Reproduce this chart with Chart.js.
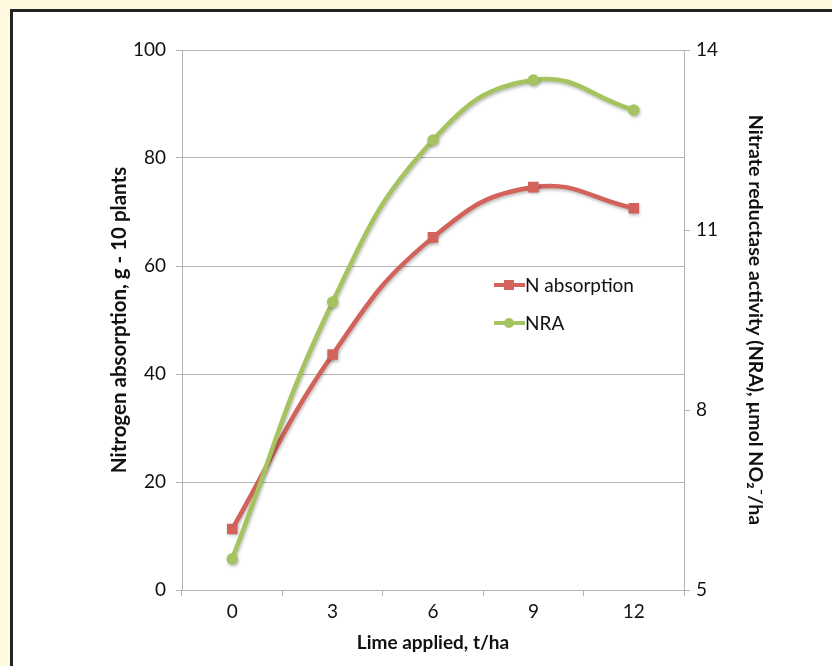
<!DOCTYPE html>
<html>
<head>
<meta charset="utf-8">
<script src="https://cdn.jsdelivr.net/npm/chart.js@4"></script>
<style>
  html, body { margin:0; padding:0; width:832px; height:666px; overflow:hidden; background:#FFF9E0; }
  #panel { position:absolute; left:10px; top:9px; width:840px; height:700px; background:#fff; border:3px solid #242424; box-sizing:border-box; }
  #wrap { position:absolute; left:0; top:0; width:832px; height:666px; }
</style>
</head>
<body>
<div id="panel"></div>
<div id="wrap"><canvas id="c" width="832" height="666"></canvas></div>
<script>
const categories = ['0', '3', '6', '9', '12'];
const nAbsorption = [11.3, 43.6, 65.3, 74.6, 70.7];
const nra = [5.52, 9.8, 12.5, 13.5, 13.0];
const seriesLabels = ['N absorption', 'NRA'];
const xTitle = 'Lime applied, t/ha';
const yLeftTitle = 'Nitrogen absorption, g - 10 plants';
const yRightTitle = 'Nitrate reductase activity (NRA), µmol NO\u2082\u207B/ha';

const RED = '#D3625A';
const GREEN = '#A5C45F';
const GRID = '#B4B4B4';
const FONT = 'Lato, "Open Sans", sans-serif';

const shadowPlugin = {
  id: 'shadow',
  beforeDatasetDraw(chart) {
    const ctx = chart.ctx;
    ctx.save();
    ctx.shadowColor = 'rgba(0,0,0,0.25)';
    ctx.shadowBlur = 3;
    ctx.shadowOffsetX = 1;
    ctx.shadowOffsetY = 2;
  },
  afterDatasetDraw(chart) { chart.ctx.restore(); }
};

const legendPlugin = {
  id: 'inlegend',
  afterDatasetsDraw(chart) {
    const ctx = chart.ctx;
    const x0 = 494;
    const rows = [{ label: seriesLabels[0], y: 285 }, { label: seriesLabels[1], y: 323 }];
    rows.forEach(row => {
      const ds = chart.data.datasets.find(d => d.label === row.label);
      const y = row.y;
      ctx.save();
      ctx.strokeStyle = ds.borderColor;
      ctx.lineWidth = 4;
      ctx.beginPath(); ctx.moveTo(x0, y); ctx.lineTo(x0 + 31, y); ctx.stroke();
      ctx.fillStyle = ds.pointBackgroundColor;
      if (ds.pointStyle === 'rect') { ctx.fillRect(x0 + 10, y - 5, 10, 10); }
      else { ctx.beginPath(); ctx.arc(x0 + 15, y, 5, 0, Math.PI * 2); ctx.fill(); }
      ctx.fillStyle = '#111';
      ctx.font = '19px ' + FONT;
      ctx.textBaseline = 'middle';
      ctx.fillText(ds.label, x0 + 31, y + 1);
      ctx.restore();
    });
  }
};

new Chart(document.getElementById('c'), {
  type: 'line',
  data: {
    labels: categories,
    datasets: [
      {
        label: seriesLabels[1], data: nra, yAxisID: 'y1',
        borderColor: GREEN, backgroundColor: GREEN, pointBackgroundColor: GREEN, pointBorderColor: GREEN,
        borderWidth: 4.5, tension: 0.45, pointStyle: 'circle', pointRadius: 5.8, pointBorderWidth: 0, order: 0
      },
      {
        label: seriesLabels[0], data: nAbsorption, yAxisID: 'y',
        borderColor: RED, backgroundColor: RED, pointBackgroundColor: RED, pointBorderColor: RED,
        borderWidth: 4.5, tension: 0.45, pointStyle: 'rect', pointRadius: 7.5, pointBorderWidth: 0, order: 1
      }
    ]
  },
  options: {
    responsive: false,
    animation: false,
    devicePixelRatio: 1,
    layout: { padding: { top: 50, left: 107, right: 65, bottom: 12 } },
    plugins: { legend: { display: false }, tooltip: { enabled: false } },
    scales: {
      x: {
        offset: true,
        grid: { offset: true, drawOnChartArea: false, color: GRID, tickLength: 6, tickColor: GRID },
        border: { color: GRID, width: 1 },
        ticks: { color: '#111', font: { family: FONT, size: 19 }, padding: 4, maxRotation: 0 },
        title: { display: true, text: xTitle, color: '#111', font: { family: FONT, size: 19, weight: 'bold' }, padding: { top: 4, bottom: 0 } },
        afterFit(s) { s.height = 64; }
      },
      y: {
        position: 'left', min: 0, max: 100,
        ticks: { stepSize: 20, color: '#111', font: { family: FONT, size: 19 }, padding: 10 },
        grid: { color: GRID, tickLength: 6, tickColor: GRID },
        border: { color: GRID },
        title: { display: true, text: yLeftTitle, color: '#111', font: { family: FONT, size: 20.5, weight: 'bold' }, padding: 0 },
        afterFit(s) { s.width = 75; }
      },
      y1: {
        position: 'right', min: 5, max: 14,
        ticks: { stepSize: 3, color: '#111', font: { family: FONT, size: 19 }, padding: 6 },
        grid: { drawOnChartArea: false, color: GRID, tickLength: 6, tickColor: GRID },
        border: { color: GRID },
        title: { display: true, text: yRightTitle, color: '#111', font: { family: FONT, size: 19.5, weight: 'bold' }, padding: { top: 0, bottom: 0 } },
        afterFit(s) { s.width = 83; }
      }
    }
  },
  plugins: [shadowPlugin, legendPlugin]
});
</script>
</body>
</html>
